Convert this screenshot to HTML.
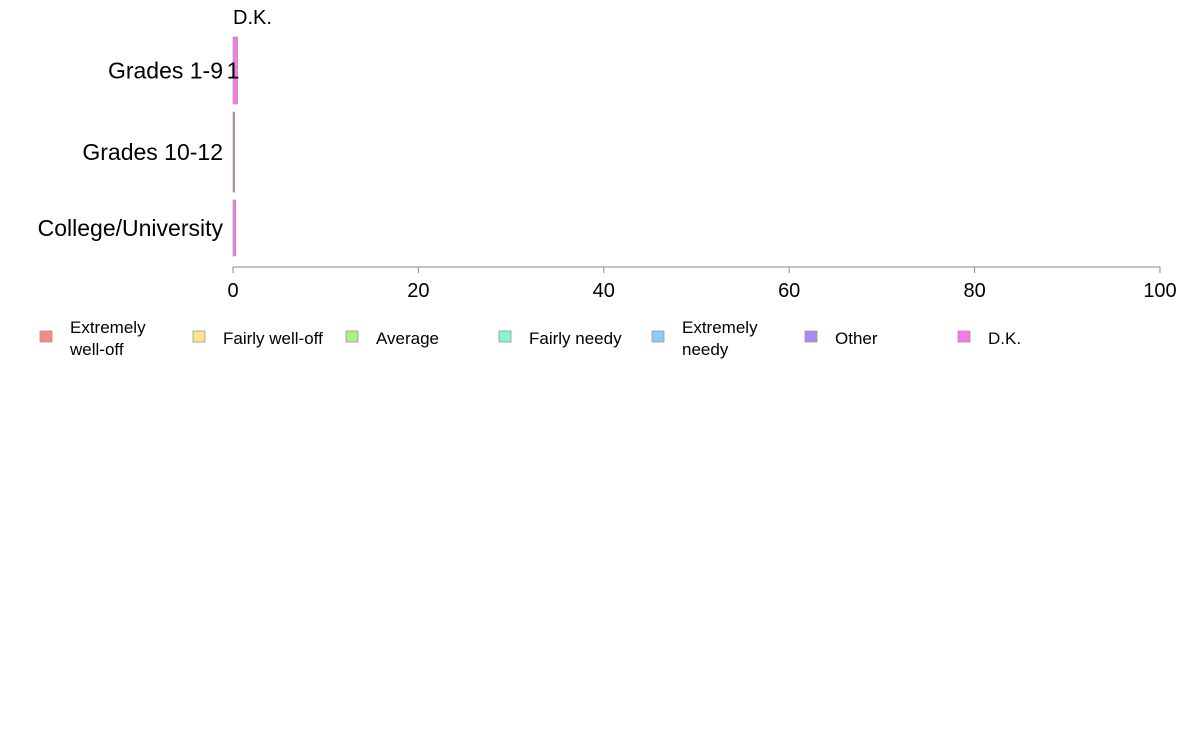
<!DOCTYPE html>
<html><head><meta charset="utf-8"><style>
body{margin:0;background:#fff;font-family:"Liberation Sans",sans-serif}
svg text{font-family:"Liberation Sans",sans-serif}
</style></head><body>
<svg id="c" width="1188" height="736"></svg>
<script>
const categories=["Grades 1-9","Grades 10-12","College/University"];
const seriesNames=["Extremely well-off","Fairly well-off","Average","Fairly needy","Extremely needy","Other","D.K."];
const legendLabels=[["Extremely","well-off"],["Fairly well-off"],["Average"],["Fairly needy"],["Extremely","needy"],["Other"],["D.K."]];
const colors=["#f88a86","#fde68a","#a8f47f","#86f7c9","#8ccaf7","#a88af5","#f87ae6"];
const sExtWell=[0,0,0];
const sFairWell=[0,0,0];
const sAverage=[0,0,0];
const sFairNeedy=[0,0,0];
const sExtNeedy=[0,0,0];
const sOther=[0,0.08,0];
const sDK=[0.5,0.04,0.3];
const barLabels=["1","",""];
const xTicks=[0,20,40,60,80,100];
const series=[sExtWell,sFairWell,sAverage,sFairNeedy,sExtNeedy,sOther,sDK];
const svg=document.getElementById('c');
const NS="http://www.w3.org/2000/svg";
function mk(t,a){const e=document.createElementNS(NS,t);for(const k in a)e.setAttribute(k,a[k]);svg.appendChild(e);return e;}
const x0=233,x1=1160;
const xs=v=>x0+(x1-x0)*v/100;
const rows=[[37,104],[112,192],[200,256]];
const ys=i=>rows[i];
const ax=mk('line',{x1:x0,x2:x1,y1:267,y2:267,stroke:'#888'});


xTicks.forEach(t=>{
 const l=mk('line',{x1:xs(t),x2:xs(t),y1:267,y2:273,stroke:'#888'});
 
 
 const tx=mk('text',{x:xs(t),y:297,'text-anchor':'middle','font-size':20});
 tx.textContent=t;
 
 
});
categories.forEach((c,i)=>{
 const [a,b]=ys(i);
 const t=mk('text',{x:223,y:(a+b)/2+8,'text-anchor':'end','font-size':23});
 t.textContent=c;
 
 
 let acc=0;
 series.forEach((s,j)=>{
  const v=s[i];if(v<=0)return;
  const r=mk('rect',{x:xs(acc),y:a,width:Math.max(1,xs(acc+v)-xs(acc)),height:b-a,fill:colors[j],stroke:'#999','stroke-width':0.6});
  
  
  acc+=v;
 });
 if(barLabels[i]){
  const t2=mk('text',{x:xs(0),y:(a+b)/2+8,'text-anchor':'middle','font-size':23});
  t2.textContent=barLabels[i];
  
  
 }
});
const hdrLabel=mk('text',{x:233,y:24,'font-size':20});
hdrLabel.textContent="D.K.";


legendLabels.forEach((lab,j)=>{
 const lx=40+153*j;
 const sw=mk('rect',{x:lx,y:331,width:12,height:11,fill:colors[j],stroke:'#999','stroke-width':0.8});
 
 
 lab.forEach((ln,k)=>{
  const y=lab.length===1?344:333+k*22;
  const t=mk('text',{x:lx+30,y:y,'font-size':17});
  t.textContent=ln;
  
  
 });
});
</script>
</body></html>
